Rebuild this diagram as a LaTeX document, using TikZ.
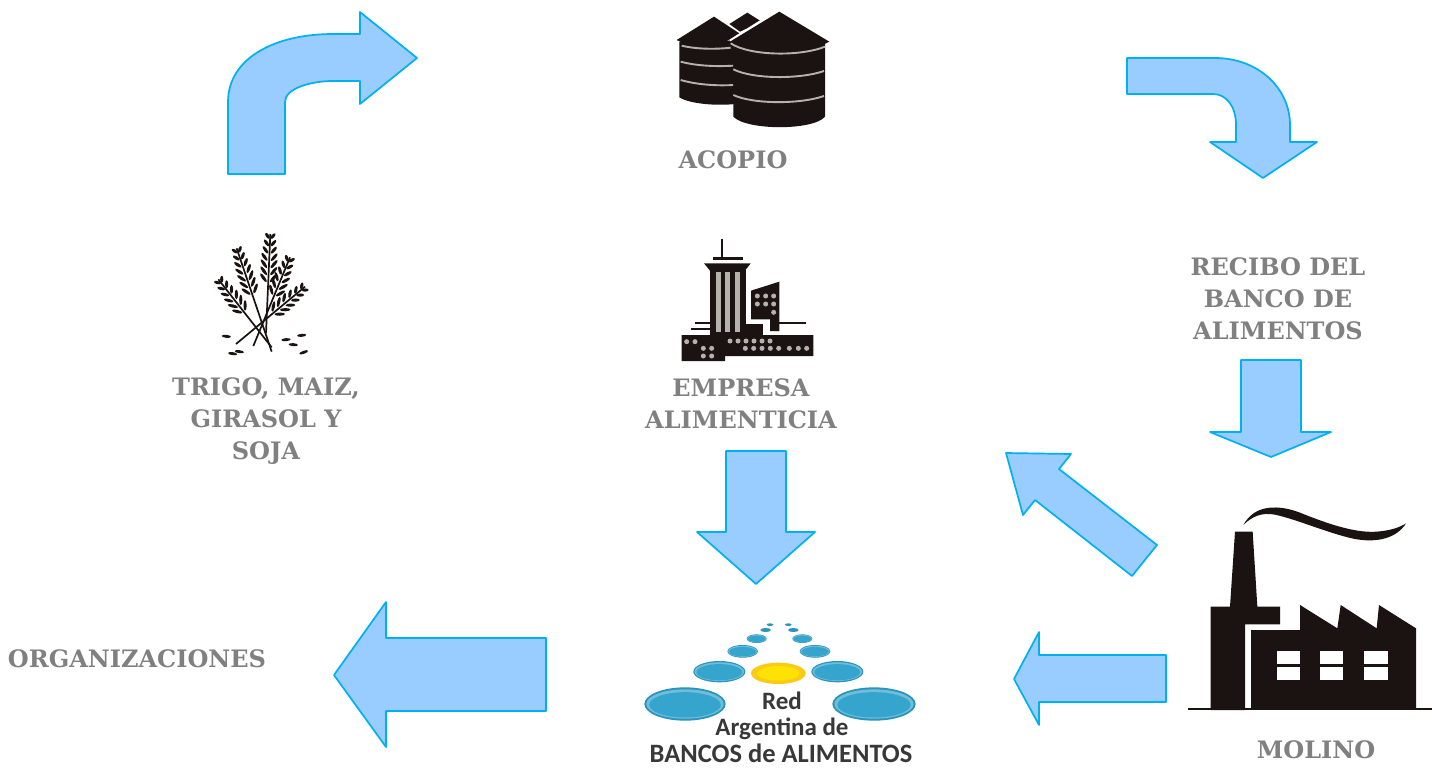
\documentclass[tikz,border=0pt]{standalone}
\usepackage{fontspec}
\setmainfont{DejaVu Serif}
\newfontfamily\logofont{Carlito}
\definecolor{arrowfill}{HTML}{99CCFF}
\definecolor{arrowline}{HTML}{00B0F0}
\definecolor{labelgray}{HTML}{808080}
\definecolor{iconblack}{HTML}{1A1311}
\definecolor{slat}{HTML}{B5B2AC}
\definecolor{plate}{HTML}{35A5CE}
\definecolor{platerim}{HTML}{6FBFDA}
\definecolor{platedark}{HTML}{2A93BE}
\newcommand{\wheatear}[5]{%
  % base x, base y, tip x, tip y, number of grain pairs
  \pgfmathsetmacro{\earang}{atan2(-(#4-(#2)),#3-(#1))}
  \pgfmathsetmacro{\earlen}{veclen(#3-(#1),#4-(#2))}
  \begin{scope}[shift={(#3,#4)},rotate=\earang]
    \draw[iconblack,line width=1.7pt] (0,0) -- (-\earlen,0);
    \foreach \i in {1,...,#5}{
      \pgfmathsetmacro{\px}{-6-(\i-1)*21}
      \pgfmathsetmacro{\off}{min(6+\i*2.2,15)}
      \pgfmathsetmacro{\gl}{min(9+\i*1.4,16)}
      \fill[iconblack] (\px,\off) ellipse [x radius=\gl,y radius=4.8,rotate=-38];
      \fill[iconblack] (\px,-\off) ellipse [x radius=\gl,y radius=4.8,rotate=38];
    }
  \end{scope}}
\tikzset{
  blockarrow/.style={fill=arrowfill,draw=arrowline,line width=1.7pt,line join=round},
  caption/.style={font=\fontsize{24}{32}\selectfont\bfseries,text=labelgray,align=center,inner sep=0pt},
  icon/.style={fill=iconblack},
  logotext/.style={text=black!78,inner sep=0pt}
}
\begin{document}
\begin{tikzpicture}[x=1pt,y=-1pt]
\useasboundingbox (0,0) rectangle (1432,769);
\fill[white] (0,0) rectangle (1432,769);

% block arrows
\draw[blockarrow] (228,174) -- (285,174) -- (285,102) .. controls (285,88) and (312,81) .. (333,81) -- (360,81) -- (360,104) -- (417,58) -- (360,12) -- (360,34) -- (333,34) .. controls (275,34) and (228,58) .. (228,102) -- cycle;
\draw[blockarrow] (1127,58) -- (1215,58) .. controls (1258,58) and (1290,88) .. (1290,125) -- (1290,142) -- (1317,142) -- (1263,178) -- (1210,142) -- (1236,142) -- (1236,125) .. controls (1236,106) and (1226,94) .. (1213,94) -- (1127,94) -- cycle;
\draw[blockarrow] (1241,360) -- (1301,360) -- (1301,432) -- (1331,432) -- (1271,457) -- (1210,432) -- (1241,432) -- cycle;
\draw[blockarrow] (726,451) -- (786,451) -- (786,532) -- (815,532) -- (756,584) -- (697,532) -- (726,532) -- cycle;
\draw[blockarrow] (1006,453) -- (1071,454) -- (1059,469) -- (1157,545) -- (1132,576) -- (1035,500) -- (1023,515) -- cycle;
\draw[blockarrow] (1014,679) -- (1039,632) -- (1039,655) -- (1166,655) -- (1166,702) -- (1039,702) -- (1039,725) -- cycle;
\draw[blockarrow] (334,675) -- (386,602) -- (386,638) -- (546,638) -- (546,711) -- (386,711) -- (386,747) -- cycle;

% silos
\begin{scope}[shift={(640,0)},scale=1/3]
  \fill[icon] (322,38) -- (268,72) -- (300,95) -- (365,65) -- cycle;
  \fill[icon] (118,125) -- (285,125) -- (285,312) .. controls (230,318) and (150,312) .. (118,292) -- cycle;
  \fill[icon] (222,50) -- (298,100) -- (268,122) -- (280,140) .. controls (220,150) and (150,140) .. (110,120) -- cycle;
  \draw[slat,line width=1.9pt] (125,137) .. controls (170,148) and (230,148) .. (272,143);
  \draw[slat,line width=1.9pt] (122,185) .. controls (170,198) and (230,200) .. (280,197);
  \draw[slat,line width=1.9pt] (122,240) .. controls (170,254) and (230,258) .. (280,255);
  \fill[white] (262,123) -- (418,24) -- (430,35) -- (300,112) -- cycle;
  \fill[icon] (280,130) -- (555,130) -- (555,350) .. controls (520,392) and (320,392) .. (280,350) -- cycle;
  \fill[icon] (418,35) -- (568,125) .. controls (530,150) and (330,170) .. (270,125) -- cycle;
  \draw[slat,line width=1.9pt] (272,130) .. controls (330,168) and (480,170) .. (555,140);
  \draw[slat,line width=1.9pt] (280,208) .. controls (340,238) and (480,238) .. (552,213);
  \draw[slat,line width=1.9pt] (280,285) .. controls (340,313) and (480,313) .. (552,288);
\end{scope}

% wheat
\begin{scope}[shift={(160,220)},scale=1/3]
  \wheatear{335}{395}{230}{85}{7}
  \wheatear{335}{382}{175}{178}{6}
  \wheatear{318}{340}{331}{42}{7}
  \wheatear{280}{378}{390}{112}{6}
  \wheatear{228}{372}{435}{200}{6}
  \foreach \a/\b/\r in {199/349/-6,238/395/-8,218/401/-8,378/359/5,400/374/-5,425/346/5,431/397/20}{
    \fill[iconblack] (\a,\b) ellipse [x radius=14,y radius=4.5,rotate=\r];
  }
\end{scope}

% company building
\begin{scope}[shift={(650,230)},scale=1/3]
  \draw[iconblack,line width=2.2pt] (216,28) -- (216,85);
  \draw[iconblack,line width=3.2pt] (188,85) -- (280,85);
  \fill[icon] (162,100) -- (302,100) -- (285,122) -- (180,122) -- cycle;
  \fill[icon] (180,120) rectangle (288,320);
  \fill[slat] (197,125) rectangle (213,305);
  \fill[slat] (226,125) rectangle (240,305);
  \fill[slat] (255,125) rectangle (270,305);
  \fill[icon] (303,182) -- (388,155) -- (388,303) -- (360,303) -- (360,268) -- (303,268) -- cycle;
  \draw[iconblack,line width=2.2pt] (135,280) -- (180,280);
  \draw[iconblack,line width=2.2pt] (122,298) -- (180,298);
  \draw[iconblack,line width=2.2pt] (388,280) -- (468,280);
  \fill[icon] (285,282) rectangle (340,320);
  \fill[icon] (95,315) -- (490,315) -- (490,378) -- (225,378) -- (225,393) -- (95,393) -- cycle;
  \foreach \a/\b in {110/335,135/335,160/355,185/355,160/378,185/378,
    240/333,264/333,288/333,312/333,336/333,360/333,
    286/355,311/355,336/355,361/355,386/355,418/355,445/355,470/355,
    322/198,347/198,371/198,322/222,347/222,371/222,371/247}{
    \fill[slat] (\a,\b) circle (7.5);
  }
\end{scope}

% factory
\begin{scope}[shift={(1180,490)},scale=1/3]
  \fill[icon] (165,125) -- (218,125) -- (232,350) -- (300,350) -- (300,403) -- (195,403) -- (195,660) -- (92,660) -- (92,350) -- (150,350) -- cycle;
  \fill[icon] (213,420) -- (360,420) -- (360,345) -- (472,415) -- (482,345) -- (590,415) -- (597,345) -- (708,415) -- (708,655) -- (213,655) -- cycle;
  \draw[iconblack,line width=2.6pt] (25,657) -- (756,657);
  \foreach \a in {290,420,553}{
    \fill[white] (\a,483) rectangle ++(70,38);
    \fill[white] (\a,532) rectangle ++(70,38);
  }
  \fill[icon] (190,105) .. controls (225,40) and (300,45) .. (360,68) .. controls (430,96) and (520,130) .. (590,125) .. controls (630,122) and (660,112) .. (678,100) .. controls (650,145) and (590,160) .. (520,146) .. controls (440,128) and (350,88) .. (285,74) .. controls (245,66) and (215,80) .. (190,105) -- cycle;
\end{scope}

% food-bank logo
\begin{scope}[shift={(620,610)},scale=1/3]
  \foreach \a/\b/\rx/\ry in {195/282/122/50,762/282/125/50,298/185/78/32,652/185/78/32,368/124/46/19,585/124/46/19,410/86/30/13,547/86/30/13}{
    \fill[platedark] (\a,\b) ellipse [x radius=\rx,y radius=\ry];
    \fill[platerim] (\a,\b) ellipse [x radius=\rx*0.95,y radius=\ry*0.88];
    \fill[plate] (\a,\b+\ry*0.05) ellipse [x radius=\rx*0.88,y radius=\ry*0.76];
  }
  \foreach \a/\b/\rx/\ry in {437/60/16/6,520/60/16/6,450/44/10/4,505/44/10/4}{
    \fill[platedark] (\a,\b) ellipse [x radius=\rx,y radius=\ry];
  }
  \fill[yellow!60!orange!95!white] (475,190) ellipse [x radius=82,y radius=32];
  \fill[yellow!85!orange] (475,190) ellipse [x radius=64,y radius=22];
\end{scope}
\node[logotext,font=\logofont\bfseries\fontsize{25}{25}\selectfont] (logored) at (782,701) {Red};
\node[logotext,font=\logofont\bfseries\fontsize{25}{25}\selectfont] (logoarg) at (782,729) {Argentina de};
\node[logotext,font=\logofont\bfseries\fontsize{26.5}{26.5}\selectfont] (logobanco) at (781,753.5) {BANCOS de ALIMENTOS};

% labels
\node[caption] (acopio) at (733,160) {ACOPIO};
\node[caption] (trigo) at (266,421) {TRIGO, MAIZ,\\GIRASOL Y\\SOJA};
\node[caption] (empresa) at (741,404) {EMPRESA\\ALIMENTICIA};
\node[caption] (recibo) at (1278,299) {RECIBO DEL\\BANCO DE\\ALIMENTOS};
\node[caption] (organizaciones) at (137,659) {ORGANIZACIONES};
\node[caption] (molino) at (1316,750) {MOLINO};
\end{tikzpicture}
\end{document}
